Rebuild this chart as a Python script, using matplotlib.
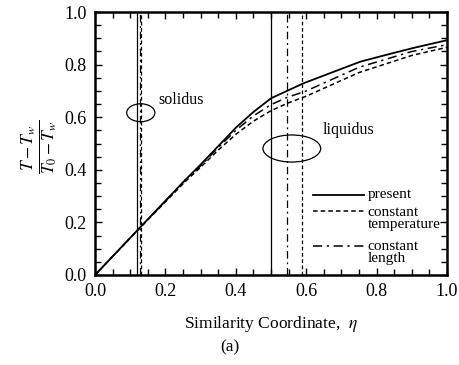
import matplotlib
matplotlib.use("Agg")
import matplotlib.pyplot as plt
from matplotlib.patches import Ellipse
from matplotlib.ticker import MultipleLocator, FormatStrFormatter

plt.rcParams['font.family'] = ['Liberation Serif', 'DejaVu Serif']
plt.rcParams['mathtext.fontset'] = 'stix'

# Data
eta_present = [0.0, 0.121, 0.256, 0.3, 0.35, 0.4, 0.45, 0.5, 0.592, 0.753, 0.824, 0.9, 1.0]
theta_present = [0.0, 0.171, 0.361, 0.42, 0.49, 0.56, 0.62, 0.672, 0.729, 0.811, 0.836, 0.862, 0.893]

eta_temp = [0.0, 0.121, 0.256, 0.3, 0.35, 0.4, 0.45, 0.5, 0.55, 0.6, 0.75, 0.9, 1.0]
theta_temp = [0.0, 0.17, 0.355, 0.41, 0.475, 0.535, 0.585, 0.625, 0.655, 0.68, 0.77, 0.835, 0.866]

eta_len = [0.0, 0.121, 0.256, 0.3, 0.35, 0.4, 0.45, 0.5, 0.545, 0.6, 0.75, 0.9, 1.0]
theta_len = [0.0, 0.171, 0.36, 0.415, 0.485, 0.55, 0.605, 0.648, 0.675, 0.70, 0.79, 0.85, 0.876]

solidus = {'present': 0.12, 'temp': 0.131, 'len': 0.127}
liquidus = {'present': 0.5, 'temp': 0.587, 'len': 0.545}

fig = plt.figure(figsize=(4.59, 3.65), dpi=100)
ax = fig.add_axes([0.207, 0.2466, 0.767, 0.7204])

lw = 1.1
dashed = (0, (3, 2))
dashdot = (0, (6, 3, 1.5, 3))

ax.plot(eta_present, theta_present, color='black', lw=1.3, ls='-')
ax.plot(eta_temp, theta_temp, color='black', lw=lw, ls=dashed)
ax.plot(eta_len, theta_len, color='black', lw=lw, ls=dashdot)

ax.axvline(solidus['present'], color='black', lw=0.9, ls='-')
ax.axvline(solidus['len'], color='black', lw=0.9, ls=dashdot)
ax.axvline(solidus['temp'], color='black', lw=0.9, ls=dashed)
ax.axvline(liquidus['present'], color='black', lw=0.9, ls='-')
ax.axvline(liquidus['len'], color='black', lw=0.9, ls=dashdot)
ax.axvline(liquidus['temp'], color='black', lw=0.9, ls=dashed)

ax.add_patch(Ellipse((0.13, 0.617), 0.08, 0.068, fill=False, ec='black', lw=0.9))
ax.add_patch(Ellipse((0.559, 0.481), 0.164, 0.103, fill=False, ec='black', lw=0.9))
ax.text(0.179, 0.665, 'solidus', fontsize=11.5, va='center', ha='left')
ax.text(0.647, 0.551, 'liquidus', fontsize=11.5, va='center', ha='left')

# legend drawn manually
lx0, lx1, tx = 0.62, 0.765, 0.775
fs = 11
ax.plot([lx0, lx1], [0.305, 0.305], color='black', lw=1.3, ls='-')
ax.text(tx, 0.305, 'present', fontsize=fs, va='center', ha='left')
ax.plot([lx0, lx1], [0.242, 0.242], color='black', lw=lw, ls=dashed)
ax.text(tx, 0.262, 'constant\ntemperature', fontsize=fs, va='top', ha='left',
        linespacing=0.85)
ax.plot([lx0, lx1], [0.112, 0.112], color='black', lw=lw, ls=dashdot)
ax.text(tx, 0.132, 'constant\nlength', fontsize=fs, va='top', ha='left',
        linespacing=0.85)

ax.set_xlim(0, 1)
ax.set_ylim(0, 1)
ax.xaxis.set_major_locator(MultipleLocator(0.2))
ax.yaxis.set_major_locator(MultipleLocator(0.2))
ax.xaxis.set_minor_locator(MultipleLocator(0.05))
ax.yaxis.set_minor_locator(MultipleLocator(0.05))
ax.tick_params(which='both', direction='in', top=True, right=True, width=1.0)
ax.tick_params(which='major', length=5, labelsize=13, pad=6)
ax.tick_params(which='minor', length=4)
ax.xaxis.set_major_formatter(FormatStrFormatter('%.1f'))
ax.yaxis.set_major_formatter(FormatStrFormatter('%.1f'))
for s in ax.spines.values():
    s.set_linewidth(1.8)

ax.set_xlabel(r'Similarity Coordinate,  $\eta$', fontsize=12.5, labelpad=10)
fig.text(0.087, 0.597, r'$\frac{T-T_w}{T_0-T_w}$', rotation=90, fontsize=18,
         ha='center', va='center')
fig.text(0.50, 0.048, '(a)', fontsize=12.5, ha='center', va='center')

fig.savefig('out.png', dpi=100)
